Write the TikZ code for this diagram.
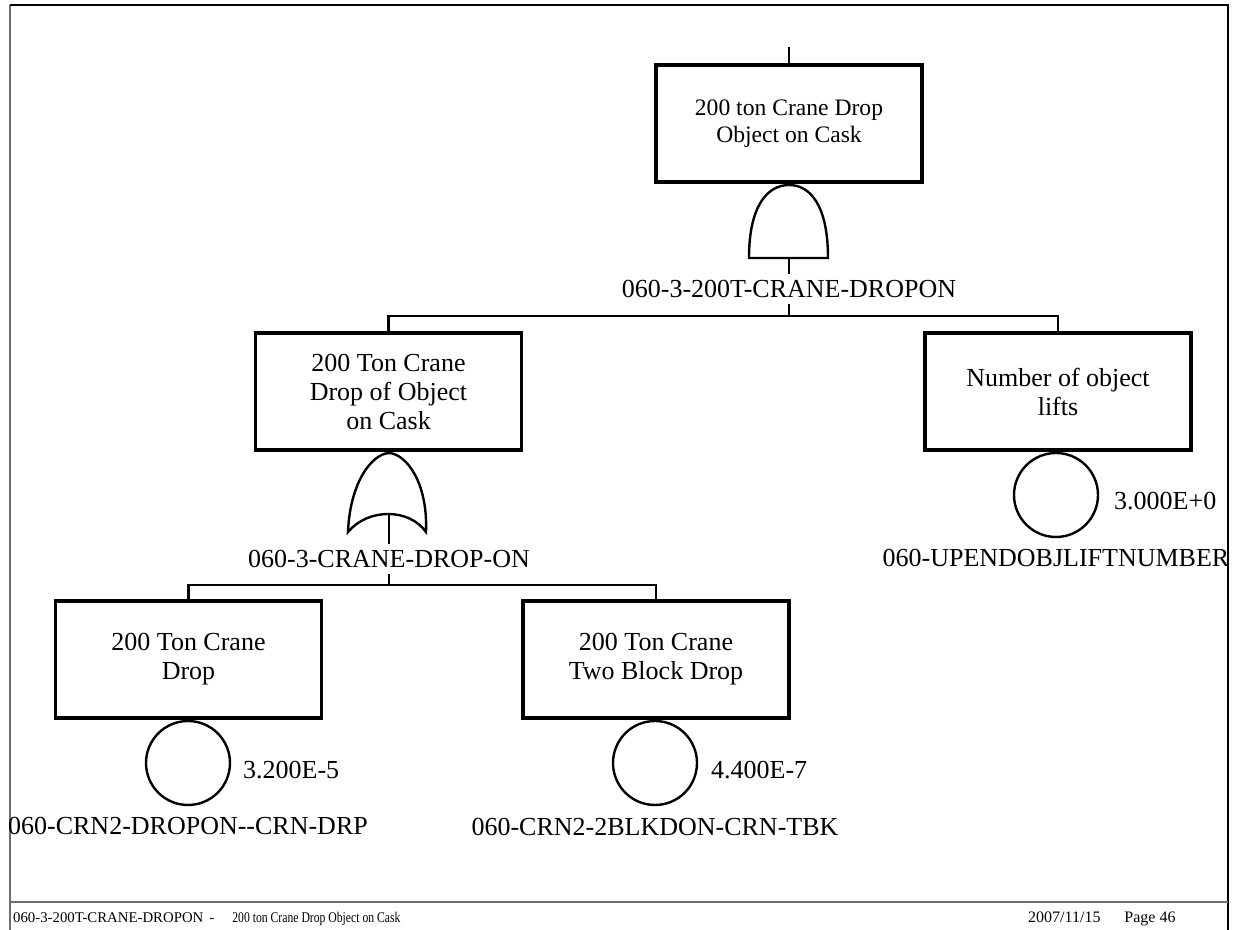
\documentclass[tikz,border=0pt]{standalone}
\usepackage{fontspec}
\setmainfont{Liberation Serif}
\usetikzlibrary{calc, positioning}
\definecolor{framecolor}{HTML}{6E6E6E}
\definecolor{linecolor}{HTML}{000000}

\begin{document}
\begin{tikzpicture}[
    x=0.5pt, y=-0.5pt,
    line width=1.2pt,
    evbox/.style={draw=linecolor, line width=1.6pt, minimum width=133pt, minimum height=58.5pt,
        align=center, inner sep=2pt, font=\fontsize{13}{14.5}\selectfont},
    evcirc/.style={draw=linecolor, circle, minimum size=42pt, inner sep=0pt},
    gatelbl/.style={inner sep=2.5pt, font=\fontsize{13}{15}\selectfont},
    valtxt/.style={anchor=base west, inner sep=0pt, font=\fontsize{13}{15}\selectfont},
    idtxt/.style={anchor=base, inner sep=0pt, font=\fontsize{13}{15}\selectfont},
    foottxt/.style={anchor=base west, inner sep=0pt, font=\fontsize{7.4}{9}\selectfont}
]
    \useasboundingbox (0,0) rectangle (1239,930);

    % Page frame and footer rule
    \draw[framecolor, line width=0.8pt] (10,930) -- (10,5);
    \draw[black, line width=0.7pt] (10,5) -- (1228,5) -- (1228,930);
    \draw[framecolor, line width=0.8pt] (10,902) -- (1228,902);

    % Top event
    \coordinate (topin) at (789,47);
    \node[evbox, font=\fontsize{11.8}{13.2}\selectfont] (top) at (789,123.5) {200 ton Crane Drop\\Object on Cask};
    \draw (topin) -- (top.north);

    % AND gate under the top event
    \draw (749,258) -- (828,258) .. controls (828,205) and (810,185) .. (789,185)
        .. controls (768,185) and (749,205) .. (749,258) -- cycle;
    \coordinate (andout) at (789,258);
    \node[gatelbl] (andlbl) at (789,289) {060-3-200T-CRANE-DROPON};
    \coordinate (andbar) at (789,316);

    % Second level events
    \node[evbox] (midL) at (388.5,391.5) {200 Ton Crane\\Drop of Object\\on Cask};
    \node[evbox] (midR) at (1058,391.5) {Number of object\\lifts};
    \draw (andout) -- (andlbl.north);
    \draw (andlbl.south) -- (andbar);
    \draw (midL.north) |- (andbar) -| (midR.north);

    % Basic event: object lifts
    \node[evcirc] (ev3) at (1056,495) {};
    \node[valtxt] (ev3val) at (1113,510) {3.000E+0};
    \node[idtxt] (ev3id) at (1056,567) {060-UPENDOBJLIFTNUMBER};

    % OR gate under the crane drop
    \draw (348,532) .. controls (368,508) and (409,508) .. (426,532)
        .. controls (428,482) and (406,454) .. (389,453)
        .. controls (372,454) and (350,482) .. (348,532) -- cycle;
    \coordinate (orout) at (389,515);
    \node[gatelbl] (orlbl) at (389,559) {060-3-CRANE-DROP-ON};
    \coordinate (orbar) at (389,585);

    % Third level events
    \node[evbox] (botL) at (188.5,659.5) {200 Ton Crane\\Drop};
    \node[evbox] (botR) at (656,659.5) {200 Ton Crane\\Two Block Drop};
    \draw (orout) -- (orlbl.north);
    \draw (orlbl.south) -- (orbar);
    \draw (botL.north) |- (orbar) -| (botR.north);

    % Basic events: crane drop and two block drop
    \node[evcirc] (ev1) at (188,763) {};
    \node[valtxt] (ev1val) at (242,779) {3.200E-5};
    \node[idtxt] (ev1id) at (188,835) {060-CRN2-DROPON-\kern0pt-CRN-DRP};

    \node[evcirc] (ev2) at (655,763) {};
    \node[valtxt] (ev2val) at (710,779) {4.400E-7};
    \node[idtxt] (ev2id) at (655,836) {060-CRN2-2BLKDON-CRN-TBK};

    % Footer
    \node[foottxt] (footl) at (12,923) {060-3-200T-CRANE-DROPON\hspace{3pt}-\hspace{9pt}\scalebox{0.79}[1]{200 ton Crane Drop Object on Cask}};
    \node[foottxt, font=\fontsize{8}{9}\selectfont] (footr) at (1027,923) {2007/11/15\hspace{12pt}Page 46};

\end{tikzpicture}
\end{document}
